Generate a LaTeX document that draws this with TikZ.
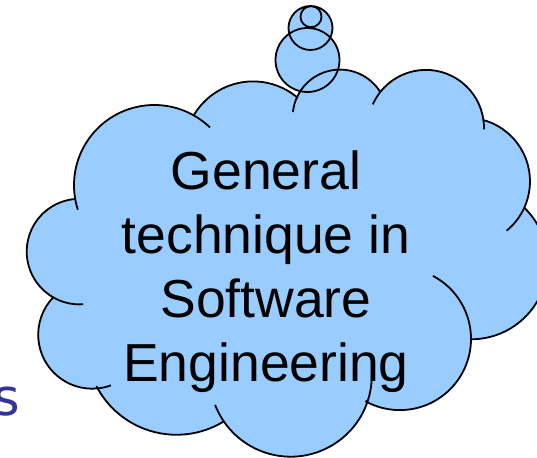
\documentclass[tikz,border=0pt]{standalone}
\usepackage{fontspec}
\setmainfont{Liberation Sans}
\newfontfamily\slidefont{DejaVu Sans}
\usetikzlibrary{calc}
\definecolor{cloudblue}{RGB}{153,204,255}
\definecolor{slideblue}{RGB}{51,51,153}

\begin{document}
\begin{tikzpicture}[x=0.5pt, y=-0.5pt, line join=round]
        \tikzstyle{rim}=[draw=black, line width=0.9pt]
        \tikzstyle{puff}=[fill=cloudblue]
        \tikzstyle{thought}=[font=\fontsize{26.75}{31.95}\selectfont, align=center, inner sep=0pt]

        \useasboundingbox (0,0) rectangle (537,458);
        \clip (0,0) rectangle (537,458);

        % centres of the bumps
        \coordinate (cL)  at (79.5,251.6);
        \coordinate (cUL) at (154.3,185.3);
        \coordinate (cTL) at (253.1,150.3);
        \coordinate (cTC) at (340,116.9);
        \coordinate (cTR) at (425.9,128);
        \coordinate (cRU) at (466.3,181.4);
        \coordinate (cFR) at (471.2,262.8);
        \coordinate (cBR) at (399.8,338.9);
        \coordinate (cB)  at (290.7,375.6);
        \coordinate (cBL) at (176.5,344.6);
        \coordinate (cLL) at (92.2,334.7);

        % bubbles
        \coordinate (b1) at (307.5,60);
        \coordinate (b2) at (310.5,28);
        \coordinate (b3) at (311,16.7);

        \fill[puff] (b1) circle[radius=32] (b2) circle[radius=22] (b3) circle[radius=10.5];

        \draw[rim, puff] ($(cL)+(119.8:52.8)$) arc[start angle=119.8, end angle=265.1, radius=52.8]
          -- ($(cUL)+(170.2:80.3)$) arc[start angle=170.2, end angle=299.5, radius=80.3]
          -- ($(cTL)+(212.5:68.9)$) arc[start angle=212.5, end angle=310, radius=68.9]
          -- ($(cTC)+(203.7:47.3)$) arc[start angle=203.7, end angle=327.8, radius=47.3]
          -- ($(cTR)+(218.3:58.1)$) arc[start angle=218.3, end angle=352.1, radius=58.1]
          -- ($(cRU)+(285.5:63.7)$) arc[start angle=285.5, end angle=384.6, radius=63.7]
          -- ($(cFR)+(314.6:76.5)$) arc[start angle=314.6, end angle=449.6, radius=76.5]
          -- ($(cBR)+(0.3:71.2)$) arc[start angle=0.3, end angle=118.4, radius=71.2]
          -- ($(cB)+(17.8:81.1)$) arc[start angle=17.8, end angle=145.6, radius=81.1]
          -- ($(cBL)+(58.7:90.2)$) arc[start angle=58.7, end angle=152.2, radius=90.2]
          -- ($(cLL)+(85.1:54)$) arc[start angle=85.1, end angle=223.9, radius=54]
          -- cycle;

        % inner arcs
        \draw[rim] ($(cL)+(86:52.8)$) arc[start angle=86, end angle=119.8, radius=52.8];
        \draw[rim] ($(cUL)+(162.3:80.3)$) arc[start angle=162.3, end angle=170.2, radius=80.3];
        \draw[rim] ($(cUL)+(299.5:80.3)$) arc[start angle=299.5, end angle=313.9, radius=80.3];
        \draw[rim] ($(cTC)+(185.9:47.3)$) arc[start angle=185.9, end angle=203.7, radius=47.3];
        \draw[rim] ($(cTR)+(204:58.1)$) arc[start angle=204, end angle=218.3, radius=58.1];
        \draw[rim] ($(cTR)+(352.1:58.1)$) arc[start angle=352.1, end angle=361.3, radius=58.1];
        \draw[rim] ($(cRU)+(384.6:63.7)$) arc[start angle=384.6, end angle=410.7, radius=63.7];
        \draw[rim] ($(cBR)+(-62.2:71.2)$) arc[start angle=-62.2, end angle=0.3, radius=71.2];
        \draw[rim] ($(cB)+(3.1:81.1)$) arc[start angle=3.1, end angle=17.8, radius=81.1];
        \draw[rim] ($(cB)+(145.6:81.1)$) arc[start angle=145.6, end angle=158.8, radius=81.1];
        \draw[rim] ($(cLL)+(69.7:54)$) arc[start angle=69.7, end angle=85.1, radius=54];

        \draw[rim] (b1) circle[radius=32] (b2) circle[radius=22] (b3) circle[radius=10.5];

        \node[thought](idea) at (266,272){General\\technique in\\Software\\Engineering};
        \node[font=\slidefont\fontsize{25.5}{30}\selectfont, text=slideblue, anchor=base east, inner sep=0pt](word) at (20,416){s};
\end{tikzpicture}
\end{document}
